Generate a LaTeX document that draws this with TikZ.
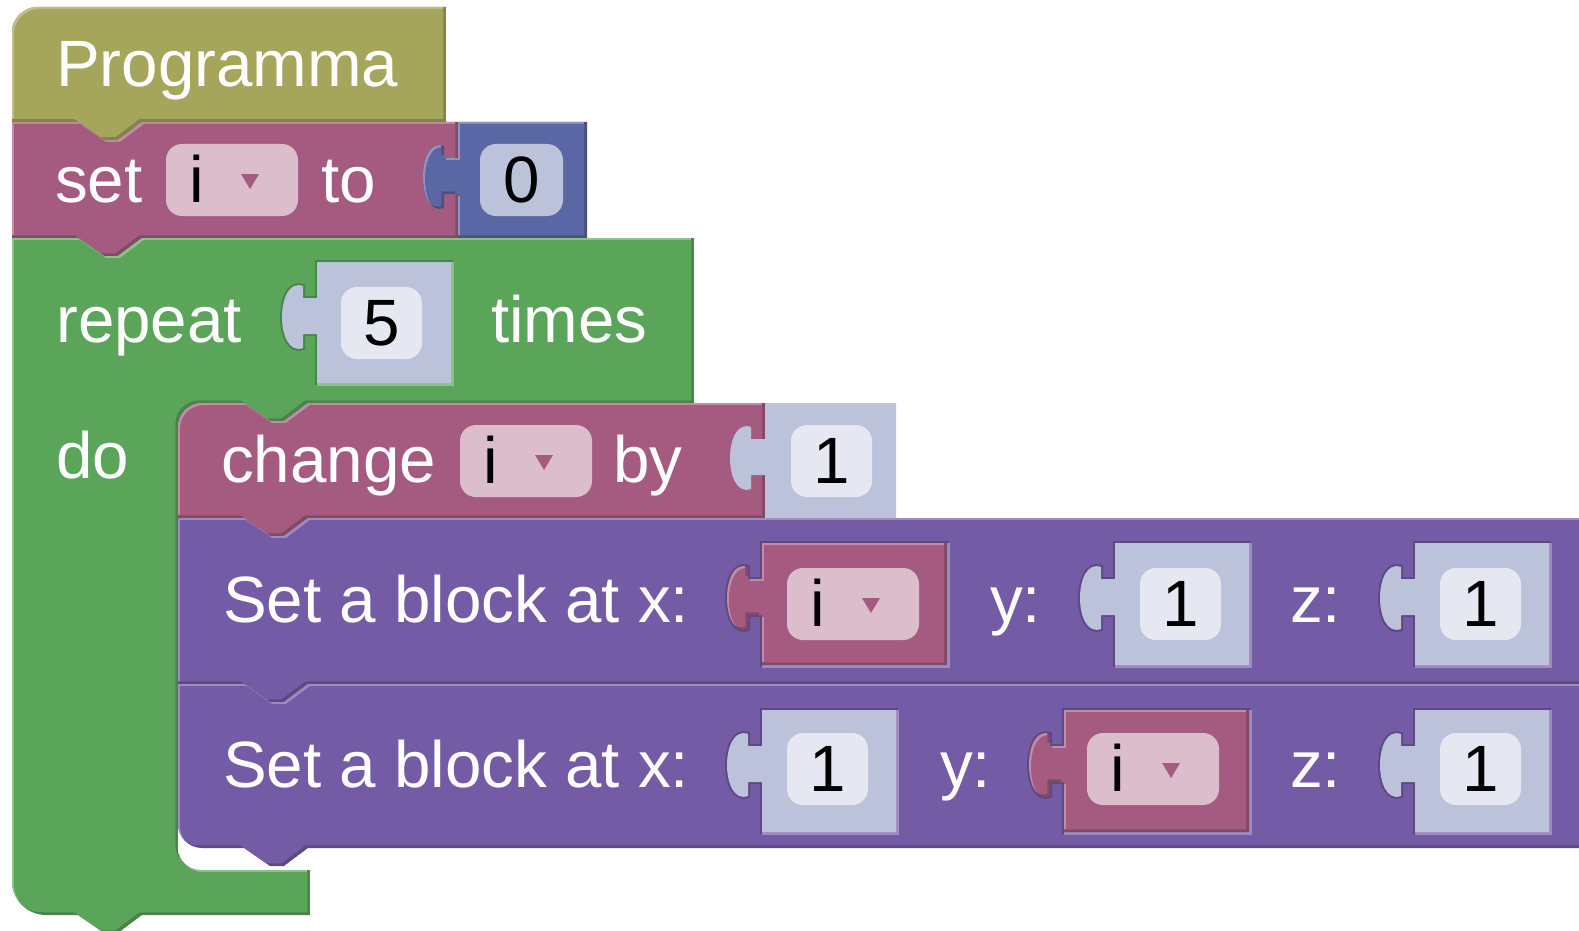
\documentclass[tikz,border=0pt]{standalone}
\usepackage{fontspec}
\setmainfont{Liberation Sans}

% block colours: main, highlight (lt), shade (dk)
\definecolor{hatc}{RGB}{165,165,91}
\definecolor{hatclt}{RGB}{192,192,140}
\definecolor{hatcdk}{RGB}{132,132,73}
\definecolor{varc}{RGB}{165,91,128}
\definecolor{varclt}{RGB}{192,140,166}
\definecolor{varcdk}{RGB}{132,73,102}
\definecolor{mathc}{RGB}{91,103,165}
\definecolor{mathclt}{RGB}{140,149,192}
\definecolor{mathcdk}{RGB}{73,82,132}
\definecolor{loopc}{RGB}{91,165,91}
\definecolor{loopclt}{RGB}{140,192,140}
\definecolor{loopcdk}{RGB}{73,132,73}
\definecolor{mcc}{RGB}{116,91,165}
\definecolor{mcclt}{RGB}{157,140,192}
\definecolor{mccdk}{RGB}{93,73,132}
\definecolor{shadowc}{RGB}{189,194,219}
\definecolor{fieldc}{RGB}{229,231,241}
\definecolor{ddc}{RGB}{219,189,204}

% output tab on the left edge of a value block (x, top y), drawn upwards
\newcommand\tabup[2]{-- (#1,{#2+72}) -- ({#1-14},{#2+72}) -- ({#1-14},{#2+86})
  .. controls ({#1-42},{#2+96}) and ({#1-42},{#2+14}) .. ({#1-14},{#2+24})
  -- ({#1-14},{#2+36}) -- (#1,{#2+36})}
% value block outline: left, top, right, bottom
\newcommand\valpath[4]{(#1,#2) -- (#3,#2) -- (#3,#4) -- (#1,#4) \tabup{#1}{#2} -- cycle}

% bevelled block: colour prefix, outline
\newcommand\blk[2]{%
  \begin{scope}
    \clip #2;
    \fill[#1dk] #2;
    \begin{scope}[xshift=-3pt,yshift=3pt]
      \clip #2;
      \fill[#1lt] #2;
      \begin{scope}[xshift=5pt,yshift=-5pt]
        \fill[#1] #2;
      \end{scope}
    \end{scope}
  \end{scope}}

% inline input socket around a child: parent prefix, l, t, r, b
\newcommand\socket[5]{%
  \draw[#1dk, line width=4pt] \valpath{#2}{#3}{#4}{#5};
  \fill[#1lt] (#2,#5) rectangle ({#4+3},{#5+3});
  \fill[#1lt] (#4,#3) rectangle ({#4+3},{#5+3});}

% variable dropdown field: node name, left, top
\newcommand\dropdown[3]{%
  \fill[ddc, rounded corners=16pt] (#2,#3) rectangle ({#2+132},{#3+72});
  \node[lbl, text=black] (#1) at ({#2+23},{#3+58}) {i};
  \fill[varc] ({#2+75},{#3+30}) -- ({#2+93},{#3+30}) -- ({#2+84},{#3+45}) -- cycle;}

% number field: node name, left, top, width, digit
\newcommand\numfield[5]{%
  \fill[fieldc, rounded corners=16pt] (#2,#3) rectangle ({#2+#4},{#3+72});
  \node[num] (#1) at ({#2+#4/2},{#3+58}) {#5};}

\begin{document}
\begin{tikzpicture}[x=1pt,y=-1pt,
  lbl/.style={anchor=base west, inner sep=0pt, text=white, font=\fontsize{65.5}{79}\selectfont},
  num/.style={anchor=base, inner sep=0pt, text=black, font=\fontsize{65.5}{79}\selectfont}]

\useasboundingbox (0,0) rectangle (1579,931);
\fill[white] (0,0) rectangle (1579,931);
\clip (0,0) rectangle (1579,931);

% ---- hat block "Programma"
\blk{hatc}{(12,122) -- (12,31) .. controls (12,17.75) and (25.25,7) .. (36,7) -- (446,7) -- (446,122)
  -- (142,122) -- (118,140) -- (104,140) -- (78,122) -- cycle}
\node[lbl] (tProg) at (56,87) {Programma};

% ---- set i to 0
\blk{varc}{(12,122) -- (78,122) -- (104,140) -- (118,140) -- (142,122) -- (458,122) -- (458,238)
  -- (142,238) -- (118,256) -- (104,256) -- (78,238) -- (12,238) -- cycle}
\node[lbl] (tSet) at (55,202) {set};
\dropdown{iSet}{166}{144}
\node[lbl] (tTo) at (321,202) {to};
\blk{mathc}{\valpath{458}{122}{587}{238}}
\fill[shadowc, rounded corners=16pt] (480,144) rectangle (563,216);
\node[num] (n0) at (521.5,202) {0};

% ---- repeat 5 times
\blk{loopc}{(12,238) -- (78,238) -- (104,256) -- (118,256) -- (142,238) -- (694,238) -- (694,403)
  -- (308,403) -- (284,421) -- (270,421) -- (244,403) -- (202,403)
  .. controls (188.75,403) and (178,413.75) .. (178,427) -- (178,848)
  .. controls (178,860.15) and (187.85,870) .. (200,870) -- (310,870) -- (310,915)
  -- (142,915) -- (118,933) -- (104,933) -- (78,915) -- (46,915)
  .. controls (27.22,915) and (12,899.78) .. (12,881) -- cycle}
\node[lbl] (tRepeat) at (56,342) {repeat};
\socket{loopc}{317}{262}{451}{383}
\fill[shadowc] \valpath{317}{262}{451}{383};
\numfield{n5}{341}{287}{81}{5}
\node[lbl] (tTimes) at (491,342) {times};
\node[lbl] (tDo) at (56,478) {do};

% ---- change i by 1
\blk{varc}{(178,427) .. controls (178,413.75) and (188.75,403) .. (202,403) -- (244,403) -- (270,421)
  -- (284,421) -- (308,403) -- (765,403) -- (765,518) -- (308,518) -- (284,536) -- (270,536)
  -- (244,518) -- (178,518) -- cycle}
\node[lbl] (tChange) at (221,482) {change};
\dropdown{iChange}{460}{425}
\node[lbl] (tBy) at (613,482) {by};
\fill[shadowc] \valpath{765}{403}{896}{518};
\numfield{n1a}{791}{425}{81}{1}

% ---- Set a block at x: i y: 1 z: 1
\blk{mcc}{(178,518) -- (244,518) -- (270,536) -- (284,536) -- (308,518) -- (1590,518) -- (1590,684)
  -- (308,684) -- (284,702) -- (270,702) -- (244,684) -- (178,684) -- cycle}
\node[lbl] (tSetA) at (223,622) {Set a block at x:};
\socket{mcc}{762}{543}{947}{665}
\blk{varc}{\valpath{762}{543}{947}{665}}
\dropdown{iRowA}{787}{568}
\node[lbl] (tYa) at (990,622) {y:};
\socket{mcc}{1115}{543}{1249}{665}
\fill[shadowc] \valpath{1115}{543}{1249}{665};
\numfield{n1b}{1140}{568}{81}{1}
\node[lbl] (tZa) at (1290,622) {z:};
\socket{mcc}{1415}{543}{1549}{665}
\fill[shadowc] \valpath{1415}{543}{1549}{665};
\numfield{n1c}{1440}{568}{81}{1}

% ---- Set a block at x: 1 y: i z: 1
\blk{mcc}{(178,684) -- (244,684) -- (270,702) -- (284,702) -- (308,684) -- (1590,684) -- (1590,848)
  -- (308,848) -- (284,866) -- (270,866) -- (244,848) -- (202,848)
  .. controls (188.75,848) and (178,837.25) .. (178,824) -- cycle}
\node[lbl] (tSetB) at (223,787) {Set a block at x:};
\socket{mcc}{762}{710}{896}{832}
\fill[shadowc] \valpath{762}{710}{896}{832};
\numfield{n1d}{787}{733}{81}{1}
\node[lbl] (tYb) at (940,787) {y:};
\socket{mcc}{1064}{710}{1249}{832}
\blk{varc}{\valpath{1064}{710}{1249}{832}}
\dropdown{iRowB}{1087}{733}
\node[lbl] (tZb) at (1290,787) {z:};
\socket{mcc}{1415}{710}{1549}{832}
\fill[shadowc] \valpath{1415}{710}{1549}{832};
\numfield{n1e}{1440}{733}{81}{1}

\end{tikzpicture}
\end{document}
